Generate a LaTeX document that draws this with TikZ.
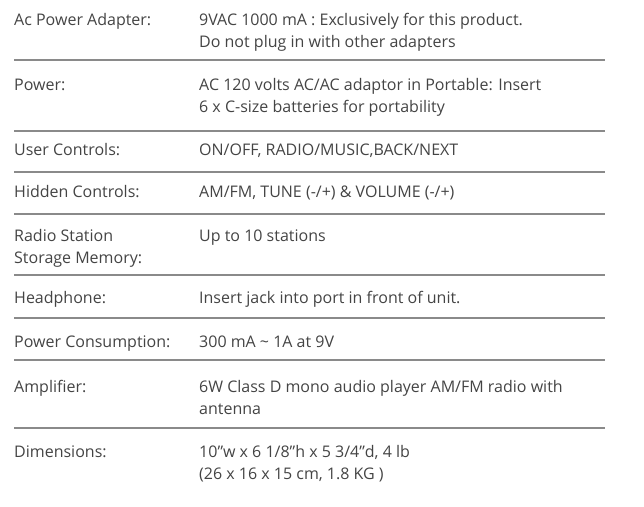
\documentclass[tikz,border=0pt]{standalone}
\usepackage{fontspec}
\setmainfont{Open Sans}
\definecolor{txt}{HTML}{444444}
\definecolor{rule}{HTML}{8A8A8A}
\begin{document}
\begin{tikzpicture}[x=1pt,y=-1pt,
  lbl/.style={anchor=base west,inner sep=0pt,text=txt,font=\fontsize{16}{22}\selectfont,align=left},
  sep/.style={draw=rule,line width=1.3pt}]
\useasboundingbox (0,0) rectangle (644,506);
\def\L{14}\def\R{199}
\node[lbl] (k1) at (\L,25) {Ac Power Adapter:};
\node[lbl] (v1) at (\R,25) {9VAC 1000 mA : Exclusively for this product.};
\node[lbl] (v1b) at (\R,47) {Do not plug in with other adapters};
\node[lbl] (k2) at (\L,90) {Power:};
\node[lbl] (v2) at (\R,90) {AC 120 volts AC/AC adaptor in Portable: Insert};
\node[lbl] (v2b) at (\R,112) {6 x C-size batteries for portability};
\node[lbl] (k3) at (\L,155) {User Controls:};
\node[lbl] (v3) at (\R,155) {ON/OFF, RADIO/MUSIC,BACK/NEXT};
\node[lbl] (k4) at (\L,197) {Hidden Controls:};
\node[lbl] (v4) at (\R,197) {AM/FM, TUNE (-/+) \& VOLUME (-/+)};
\node[lbl] (k5) at (\L,241) {Radio Station};
\node[lbl] (k5b) at (\L,263) {Storage Memory:};
\node[lbl] (v5) at (\R,241) {Up to 10 stations};
\node[lbl] (k6) at (\L,303) {Headphone:};
\node[lbl] (v6) at (\R,303) {Insert jack into port in front of unit.};
\node[lbl] (k7) at (\L,347) {Power Consumption:};
\node[lbl] (v7) at (\R,347) {300 mA \textasciitilde{} 1A at 9V};
\node[lbl] (k8) at (\L,392) {Amplifier:};
\node[lbl] (v8) at (\R,392) {6W Class D mono audio player AM/FM radio with};
\node[lbl] (v8b) at (\R,414) {antenna};
\node[lbl] (k9) at (\L,457) {Dimensions:};
\node[lbl] (v9) at (\R,457) {10''w x 6 1/8''h x 5 3/4''d, 4 lb};
\node[lbl] (v9b) at (\R,479) {(26 x 16 x 15 cm, 1.8 KG )};
\foreach \y in {60,131,172,214,275,318,360,428}
  \draw[sep] (14,\y) -- (605,\y);
\end{tikzpicture}
\end{document}
